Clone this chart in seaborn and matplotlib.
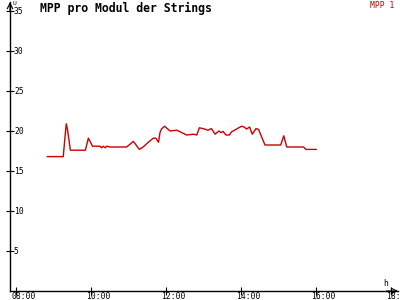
import matplotlib
matplotlib.use("Agg")
import matplotlib.pyplot as plt
import matplotlib.transforms as mtrans
import seaborn as sns
import pandas as pd

# time in decimal hours, MPP voltage-like value
hours = [8.83, 9.26, 9.30, 9.34, 9.37, 9.45, 9.85, 9.93, 10.04, 10.24, 10.28, 10.33,
         10.38, 10.42, 10.51, 10.95, 11.13, 11.29, 11.39, 11.53, 11.66, 11.73, 11.80,
         11.84, 11.88, 11.96, 12.11, 12.29, 12.55, 12.73, 12.82, 12.89, 12.99, 13.12,
         13.21, 13.31, 13.41, 13.47, 13.52, 13.60, 13.69, 13.75, 13.90, 14.02, 14.08,
         14.15, 14.23, 14.30, 14.40, 14.47, 14.52, 14.64, 15.06, 15.14, 15.22, 15.67,
         15.73, 16.01]
values = [16.8, 16.8, 18.9, 20.9, 20.3, 17.6, 17.6, 19.1, 18.1, 18.1, 17.9, 18.1,
          17.9, 18.1, 18.0, 18.0, 18.7, 17.7, 18.0, 18.6, 19.1, 19.1, 18.6,
          19.8, 20.25, 20.6, 20.0, 20.1, 19.5, 19.6, 19.5, 20.4, 20.3, 20.1,
          20.3, 19.6, 20.0, 19.8, 19.95, 19.5, 19.5, 19.9, 20.3, 20.6, 20.5,
          20.25, 20.5, 19.6, 20.3, 20.2, 19.6, 18.25, 18.25, 19.4, 18.0, 18.0,
          17.7, 17.7]
series_label = "MPP 1"
title = "MPP pro Modul der Strings"
y_ticks = [5, 10, 15, 20, 25, 30, 35]
x_ticks = [8, 10, 12, 14, 16, 18]
x_tick_labels = ["08:00", "10:00", "12:00", "14:00", "16:00", "18:00"]

sns.set_style("white")
plt.rcParams['font.family'] = ['DejaVu Sans Mono']
plt.rcParams['text.color'] = 'black'

df = pd.DataFrame({"h": hours, "v": values})

fig = plt.figure(figsize=(4, 3), dpi=100)
ax = fig.add_axes([10/400, 9/300, 388/400, 289/300])
sns.lineplot(data=df, x="h", y="v", ax=ax, color="#cc0000", linewidth=1.0)

x0 = 8 - 6/37.5
x1 = 8 + (398-16)/37.5
ax.set_xlim(x0, x1)
ax.set_ylim(0, 289/8)
for s in ["top", "right"]:
    ax.spines[s].set_visible(False)
for s in ["left", "bottom"]:
    ax.spines[s].set_color("black")
    ax.spines[s].set_linewidth(1.0)
ax.set_xlabel("")
ax.set_ylabel("")
ax.set_xticks(x_ticks)
ax.set_yticks(y_ticks)
ax.set_xticklabels([])
ax.set_yticklabels([])
ax.tick_params(axis="both", direction="inout", length=6, width=0.8, color="black",
               bottom=True, left=True)
ax.grid(False)

fs = 5.8
for yt in y_ticks:
    tr = mtrans.offset_copy(ax.transData, fig=fig, x=4, y=0, units="dots")
    ax.text(x0, yt, str(yt), transform=tr, ha="left", va="center", fontsize=fs, clip_on=False)
for xt, lab in zip(x_ticks, x_tick_labels):
    tr = mtrans.offset_copy(ax.transData, fig=fig, x=-5, y=-1, units="dots")
    ax.text(xt, 0, lab, transform=tr, ha="left", va="top", fontsize=fs, clip_on=False)

# axis arrows
ax.annotate("", xy=(1.0, 0), xytext=(0.97, 0), xycoords="axes fraction",
            arrowprops=dict(arrowstyle="->", color="black", lw=0.8, shrinkA=0, shrinkB=0))
ax.annotate("", xy=(0, 1.0), xytext=(0, 0.97), xycoords="axes fraction",
            arrowprops=dict(arrowstyle="->", color="black", lw=0.8, shrinkA=0, shrinkB=0))

fig.text(386/400, 1 - 284/300, "h", fontsize=fs, ha="center", va="center")
fig.text(14/400, 1 - 1/300, "U", fontsize=4.5, ha="center", va="top")
fig.text(40/400, 1 - 8/300, title, fontsize=8.3, fontweight="bold", ha="left", va="center")
fig.text(394/400, 1 - 1/300, series_label, fontsize=fs, color="#cc0000", ha="right", va="top")

fig.savefig("out.png", dpi=100, facecolor="white")
